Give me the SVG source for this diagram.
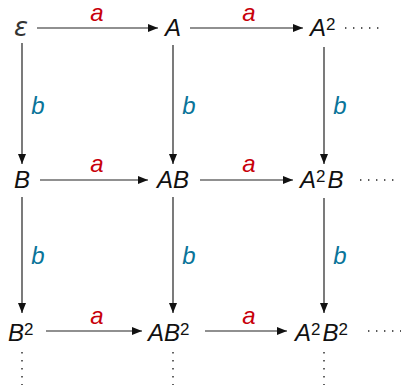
<svg xmlns="http://www.w3.org/2000/svg" width="401" height="385" viewBox="0 0 401 385">
<style>
.n{font-family:"Liberation Sans",Arial,sans-serif;font-style:italic;font-size:24px;fill:#111}
.s{font-size:17px;font-style:normal}
.la{font-family:"Liberation Sans",Arial,sans-serif;font-style:italic;font-size:24px;fill:#c8000a;text-anchor:middle}
.lb{font-family:"Liberation Sans",Arial,sans-serif;font-style:italic;font-size:24px;fill:#0a7499;text-anchor:middle}
.e{stroke:#222;stroke-width:1.2;fill:none;marker-end:url(#ah)}
.d{stroke:#222;stroke-width:1.4;fill:none;stroke-dasharray:1.4 6.6}
</style>
<defs>
<marker id="ah" viewBox="0 0 10 8" refX="10" refY="4" markerWidth="10" markerHeight="8" markerUnits="userSpaceOnUse" orient="auto">
<path d="M0,0 L10,4 L0,8 Z" fill="#111"/>
</marker>
</defs>
<g id="connectors">
<line class="e" x1="37" y1="28" x2="158" y2="28"/>
<line class="e" x1="190" y1="28" x2="303" y2="28"/>
<line class="e" x1="40" y1="180" x2="148" y2="180"/>
<line class="e" x1="200" y1="180" x2="293" y2="180"/>
<line class="e" x1="46" y1="331" x2="142" y2="331"/>
<line class="e" x1="205" y1="331" x2="287" y2="331"/>
<line class="e" x1="22" y1="43" x2="22" y2="164"/>
<line class="e" x1="173" y1="45" x2="173" y2="164"/>
<line class="e" x1="324" y1="47" x2="324" y2="164"/>
<line class="e" x1="22" y1="197" x2="22" y2="313"/>
<line class="e" x1="173" y1="197" x2="173" y2="313"/>
<line class="e" x1="324" y1="198" x2="324" y2="313"/>
<line class="d" x1="345" y1="28" x2="380" y2="28"/>
<line class="d" x1="360" y1="180" x2="395" y2="180"/>
<line class="d" x1="368" y1="331" x2="401" y2="331"/>
<line class="d" x1="22" y1="352" x2="22" y2="385"/>
<line class="d" x1="173" y1="352" x2="173" y2="385"/>
<line class="d" x1="324" y1="352" x2="324" y2="385"/>
<text class="la" x="97" y="21">a</text>
<text class="la" x="249" y="21">a</text>
<text class="la" x="97" y="172">a</text>
<text class="la" x="249" y="172">a</text>
<text class="la" x="97" y="324">a</text>
<text class="la" x="249" y="324">a</text>
<text class="lb" x="38" y="114">b</text>
<text class="lb" x="189" y="114">b</text>
<text class="lb" x="340" y="114">b</text>
<text class="lb" x="38" y="264">b</text>
<text class="lb" x="189" y="264">b</text>
<text class="lb" x="340" y="264">b</text>
</g>
<g id="n-eps"><text class="n" x="21" y="36" text-anchor="middle" style="font-family:'DejaVu Sans',sans-serif;font-size:26px;fill:#333">ε</text></g>
<g id="n-A"><text class="n" x="173" y="36" text-anchor="middle">A</text></g>
<g id="n-A2"><text class="n" x="310" y="36">A<tspan class="s" dy="-6">2</tspan></text></g>
<g id="n-B"><text class="n" x="22" y="188" text-anchor="middle">B</text></g>
<g id="n-AB"><text class="n" x="173" y="188" text-anchor="middle">AB</text></g>
<g id="n-A2B"><text class="n" x="300" y="188">A<tspan class="s" dy="-6">2</tspan><tspan dx="2" dy="6">B</tspan></text></g>
<g id="n-B2"><text class="n" x="8" y="341">B<tspan class="s" dy="-6">2</tspan></text></g>
<g id="n-AB2"><text class="n" x="148" y="341">AB<tspan class="s" dy="-6">2</tspan></text></g>
<g id="n-A2B2"><text class="n" x="295" y="341">A<tspan class="s" dy="-6">2</tspan><tspan dx="2" dy="6">B</tspan><tspan class="s" dy="-6">2</tspan></text></g>
</svg>
